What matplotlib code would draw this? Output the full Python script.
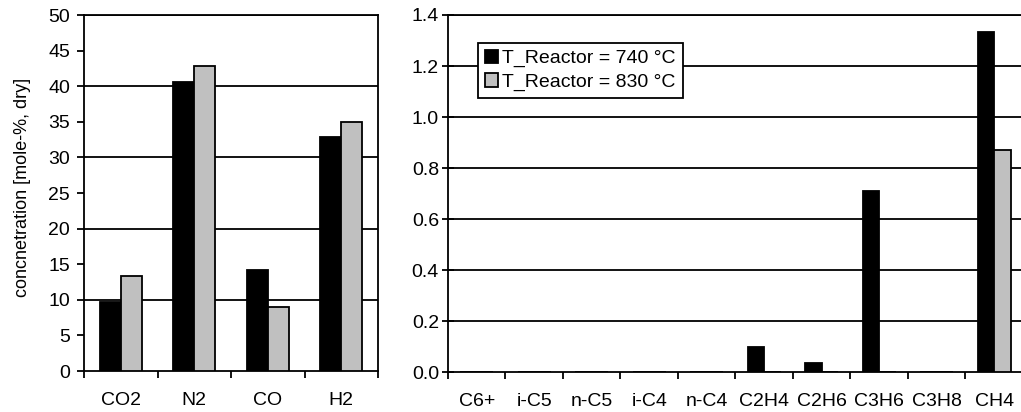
import numpy as np
import matplotlib.pyplot as plt

plt.rcParams['font.family'] = ['Liberation Sans', 'DejaVu Sans']
plt.rcParams['font.size'] = 14

## Données

# gaz permanents
gaz = ['CO2', 'N2', 'CO', 'H2']
gaz_740 = [9.7, 40.6, 14.2, 32.8]
gaz_830 = [13.4, 42.9, 9.0, 35.0]

# hydrocarbures
hc = ['C6+', 'i-C5', 'n-C5', 'i-C4', 'n-C4', 'C2H4', 'C2H6', 'C3H6', 'C3H8', 'CH4']
hc_740 = [0, 0, 0, 0, 0, 0.10, 0.035, 0.71, 0, 1.335]
hc_830 = [0, 0, 0, 0, 0, 0, 0, 0, 0, 0.87]

labels = ['T_Reactor = 740 °C', 'T_Reactor = 830 °C']
gris = '#c0c0c0'
lw = 1.3
w = 1 / 3.5  # gap width 150% façon Excel

fig = plt.figure(figsize=(10.21, 4.12), dpi=100)
ax1 = fig.add_axes([0.0823, 0.0995, 0.288, 0.864])
ax2 = fig.add_axes([0.4388, 0.0970, 0.563, 0.8666])


def trace(ax, cats, v1, v2):
    x = np.arange(len(cats))
    b1 = ax.bar(x - w / 2, v1, w, color='black', edgecolor='black', linewidth=lw, zorder=3)
    b2 = ax.bar(x + w / 2, v2, w, color=gris, edgecolor='black', linewidth=lw, zorder=3)
    ax.set_xlim(-0.5, len(cats) - 0.5)
    # ticks entre les catégories, labels au centre
    ax.set_xticks(np.arange(len(cats) + 1) - 0.5)
    ax.set_xticklabels([])
    ax.set_xticks(x, minor=True)
    ax.set_xticklabels(cats, minor=True)
    ax.tick_params(axis='x', which='major', direction='out', length=5, width=lw)
    ax.tick_params(axis='x', which='minor', length=0, pad=15)
    for s in ax.spines.values():
        s.set_linewidth(lw)
    return b1, b2


trace(ax1, gaz, gaz_740, gaz_830)
ax1.set_ylim(0, 50)
ax1.set_yticks(np.arange(0, 51, 5))
ax1.tick_params(axis='y', direction='out', length=5, width=lw, pad=5)
for g in range(10, 51, 10):
    ax1.axhline(g, color='black', linewidth=lw, zorder=1)
ax1.set_ylabel('concnetration [mole-%, dry]', fontsize=13)
ax1.yaxis.set_label_coords(-0.18, 0.515)

b1, b2 = trace(ax2, hc, hc_740, hc_830)
ax2.set_ylim(0, 1.4)
ax2.set_yticks(np.arange(0, 1.41, 0.2))
ax2.set_yticklabels(['%.1f' % t for t in np.arange(0, 1.41, 0.2)])
ax2.tick_params(axis='y', direction='inout', length=9, width=lw, pad=2)
for g in np.arange(0.2, 1.41, 0.2):
    ax2.axhline(g, color='black', linewidth=lw, zorder=1)

leg = ax2.legend([b1, b2], labels, loc='upper left', bbox_to_anchor=(0.052, 0.922),
                 borderaxespad=0, fancybox=False, framealpha=1, edgecolor='black',
                 handlelength=0.7, handleheight=0.7, handletextpad=0.2,
                 labelspacing=0.3, borderpad=0.35)
leg.get_frame().set_linewidth(lw)

fig.savefig('out.png', dpi=100)
